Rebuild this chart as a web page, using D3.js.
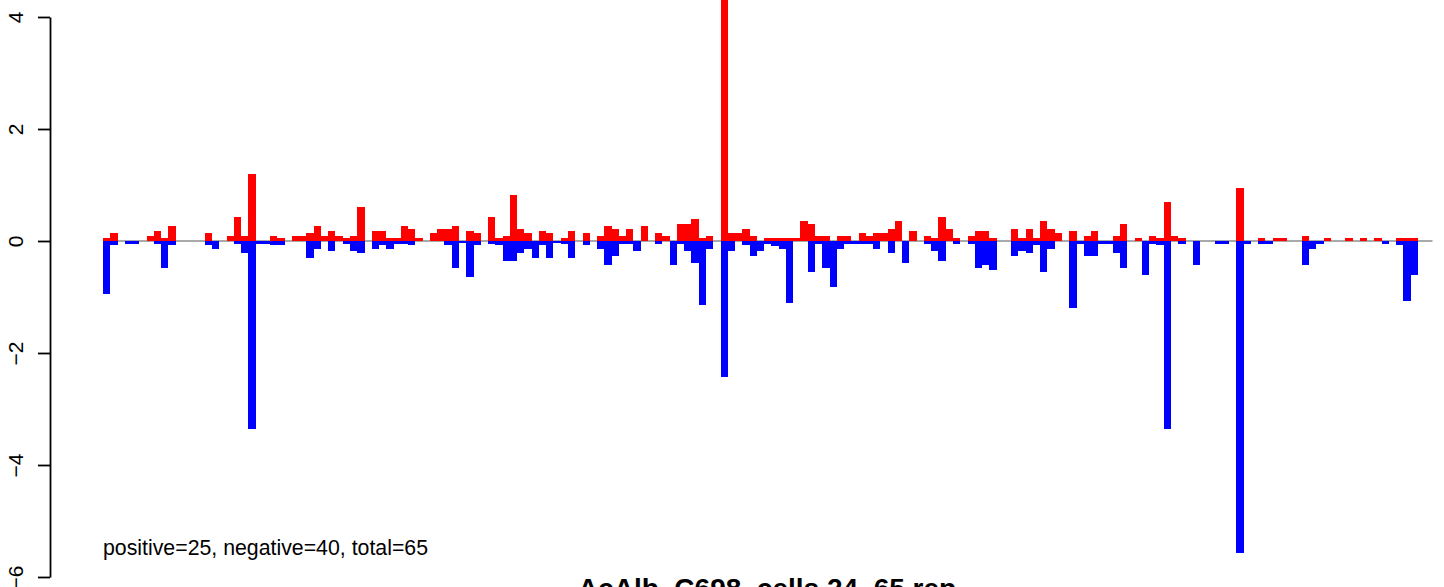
<!DOCTYPE html>
<html>
<head>
<meta charset="utf-8">
<script src="https://cdn.jsdelivr.net/npm/d3@7/dist/d3.min.js"></script>
<style>
  html, body { margin: 0; padding: 0; background: #fff; overflow: hidden; }
  svg { display: block; font-family: "Liberation Sans", Arial, Helvetica, sans-serif; }
</style>
</head>
<body>
<svg id="chart" width="1444" height="587"></svg>
<script>
// positive (red) values per position
const positive = [
  0.05,0.14,0,0,0,0,0.09,0.18,0.05,0.27,
  0,0,0,0,0.14,0,0,0.09,0.43,0.09,
  1.2,0,0,0.09,0.05,0,0.09,0.09,0.14,0.27,
  0.09,0.18,0.09,0.05,0.09,0.61,0,0.18,0.18,0.05,
  0.05,0.27,0.21,0.05,0,0.14,0.21,0.21,0.27,0,
  0.18,0.14,0,0.43,0.05,0.09,0.82,0.21,0.14,0,
  0.18,0.14,0,0.05,0.18,0,0.14,0,0.09,0.27,
  0.21,0.09,0.21,0,0.27,0,0.14,0.09,0,0.30,
  0.30,0.39,0.05,0.09,0,4.6,0.14,0.14,0.21,0.09,
  0,0.05,0.05,0.05,0.05,0.05,0.36,0.30,0.09,0.09,
  0,0.09,0.09,0,0.14,0.09,0.14,0.14,0.21,0.36,
  0,0.18,0,0.09,0.05,0.43,0.21,0.05,0,0.09,
  0.18,0.18,0.05,0,0,0.21,0.05,0.21,0.05,0.36,
  0.21,0.14,0,0.18,0,0.09,0.18,0,0,0.09,
  0.30,0,0.05,0,0.09,0.05,0.70,0.09,0.05,0,
  0,0,0,0,0,0,0.95,0,0,0.05,
  0,0.05,0.05,0,0,0.09,0,0,0.05,0,
  0,0.05,0,0.05,0,0.05,0,0,0.05,0.05,
  0.05
];
// negative (blue) values per position
const negative = [
  -0.94,-0.08,0,-0.05,-0.05,0,0,-0.05,-0.48,-0.08,
  0,0,0,0,-0.08,-0.14,0,0,-0.05,-0.21,
  -3.35,-0.05,-0.05,-0.08,-0.08,0,0,0,-0.30,-0.14,
  0,-0.17,0,-0.05,-0.17,-0.21,0,-0.14,-0.08,-0.14,
  -0.05,-0.05,-0.08,0,0,0,0,-0.08,-0.48,-0.03,
  -0.64,-0.08,0,-0.05,-0.08,-0.36,-0.36,-0.21,-0.14,-0.30,
  -0.08,-0.30,-0.03,-0.05,-0.30,0,-0.08,0,-0.14,-0.43,
  -0.26,-0.05,-0.05,-0.17,0,0,-0.05,0,-0.42,-0.05,
  -0.17,-0.39,-1.14,-0.14,0,-2.42,-0.17,0,-0.08,-0.26,
  -0.17,-0.05,-0.09,-0.14,-1.11,0,0,-0.55,-0.05,-0.48,
  -0.82,-0.14,-0.05,-0.05,-0.05,-0.05,-0.14,0,-0.21,0,
  -0.39,0,0,-0.05,-0.17,-0.36,0,-0.05,0,-0.05,
  -0.48,-0.43,-0.52,0,0,-0.27,-0.17,-0.21,-0.08,-0.55,
  -0.14,0,0,-1.2,-0.05,-0.26,-0.26,-0.05,-0.05,-0.21,
  -0.48,0,0,-0.60,-0.05,-0.08,-3.35,0,-0.05,0,
  -0.42,0,0,-0.05,-0.05,0,-5.58,-0.05,0,-0.05,
  -0.05,0,0,0,0,-0.42,-0.14,-0.05,0,0,
  0,0,0,0,0,0,-0.05,0,-0.08,-1.07,
  -0.61
];
const yTicks = [-6, -4, -2, 0, 2, 4];
const annotation = "positive=25, negative=40, total=65";
const nextTitle = "AcAlb_C698_cells 24_65.rep";

const svg = d3.select("#chart");
const n = positive.length;
const idx = d3.range(n);

const x = d3.scaleBand().domain(idx).range([103, 1418]).paddingInner(0).paddingOuter(0);
const y = d3.scaleLinear().domain([-6, 4]).range([577, 17]);

// zero reference line
const xLine = d3.scaleLinear().domain([0, n]).range([103, 1418]);
svg.append("line")
  .attr("x1", xLine(0)).attr("x2", xLine(n + 2))
  .attr("y1", y(0)).attr("y2", y(0))
  .attr("stroke", "#a9a9a9").attr("stroke-width", 2);

// negative bars
svg.append("g").selectAll("rect").data(idx.filter(i => negative[i] < 0)).join("rect")
  .attr("x", i => x(i)).attr("width", x.bandwidth())
  .attr("y", y(0)).attr("height", i => y(negative[i]) - y(0))
  .attr("fill", "#0000ff").attr("shape-rendering", "crispEdges");

// positive bars
svg.append("g").selectAll("rect").data(idx.filter(i => positive[i] > 0)).join("rect")
  .attr("x", i => x(i)).attr("width", x.bandwidth())
  .attr("y", i => y(positive[i])).attr("height", i => y(0) - y(positive[i]))
  .attr("fill", "#ff0000").attr("shape-rendering", "crispEdges");

// y axis
const axis = d3.axisLeft(y).tickValues(yTicks).tickSize(12).tickSizeOuter(0)
  .tickFormat(d => d < 0 ? "\u2212" + Math.abs(d) : String(d));
const gA = svg.append("g").attr("transform", "translate(50,0)").call(axis);
gA.select(".domain").attr("stroke", "#000").attr("stroke-width", 1.8);
gA.selectAll(".tick line").attr("stroke", "#000").attr("stroke-width", 1.8);
gA.selectAll(".tick text")
  .attr("x", 0).attr("y", 0).attr("dy", 0)
  .attr("transform", "translate(-27,0) rotate(-90)")
  .attr("text-anchor", "middle")
  .style("font-size", "21px").attr("fill", "#000");

// annotation
svg.append("text").attr("x", 103).attr("y", 555)
  .style("font-size", "21.3px").attr("fill", "#000").text(annotation);

// title of the panel below (cut off)
svg.append("text").attr("x", 767).attr("y", 598)
  .attr("text-anchor", "middle").style("font-size", "28px").style("font-weight", "bold")
  .attr("fill", "#000").text(nextTitle);
</script>
</body>
</html>
